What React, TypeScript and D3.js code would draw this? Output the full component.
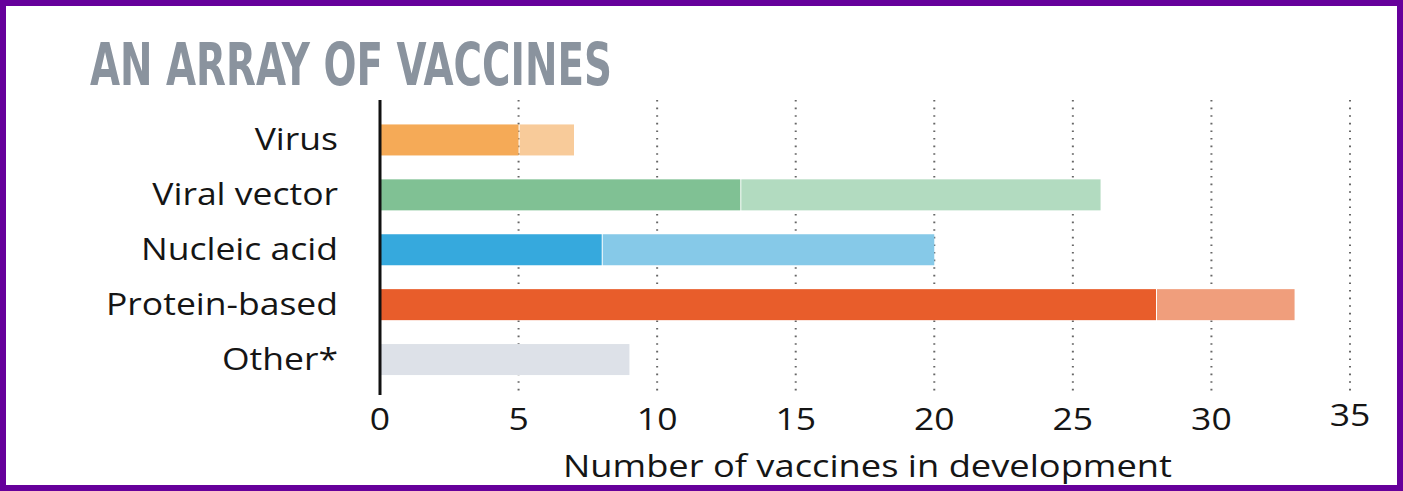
import { useEffect, useRef } from 'react'
import * as d3 from 'd3'

const categories = ['Virus', 'Viral vector', 'Nucleic acid', 'Protein-based', 'Other*']
// first segment (dark) and second segment (light) per category
const firstValues = [5, 13, 8, 28, 9]
const secondValues = [2, 13, 12, 5, 0]
const darkColors = ['#f5aa57', '#80c194', '#36a9dd', '#e85d2b', '#dde1e8']
const lightColors = ['#f8cb9a', '#b2dbc0', '#86c9e8', '#f09e7c', '#dde1e8']
const ticks = [0, 5, 10, 15, 20, 25, 30, 35]

const App = () => {
	const svgRef = useRef(null)

	useEffect(() => {
		document.body.style.margin = '0'
		const width = 1403
		const height = 491
		const font = '"Open Sans", sans-serif'

		const svg = d3.select(svgRef.current)
		svg.selectAll('*').remove()
		svg.attr('width', width).attr('height', height)

		svg
			.append('rect')
			.attr('x', 0)
			.attr('y', 0)
			.attr('width', width)
			.attr('height', height)
			.attr('fill', '#fff')

		// purple frame
		svg
			.append('rect')
			.attr('x', 3)
			.attr('y', 3)
			.attr('width', width - 6)
			.attr('height', height - 6)
			.attr('fill', 'none')
			.attr('stroke', '#66009b')
			.attr('stroke-width', 6)

		// title
		svg
			.append('text')
			.attr('x', 90)
			.attr('y', 85)
			.attr('textLength', 522)
			.attr('lengthAdjust', 'spacingAndGlyphs')
			.style('font-family', '"DejaVu Sans Condensed", "DejaVu Sans", sans-serif')
			.style('font-weight', 'bold')
			.style('font-size', '59px')
			.style('fill', '#8a939e')
			.text('AN ARRAY OF VACCINES')

		const x = d3.scaleLinear().domain([0, 35]).range([380, 1350])
		const y = d3
			.scaleBand()
			.domain(categories)
			.range([112.5, 387])
			.paddingInner(0.435)
			.paddingOuter(0.2175)

		const gridTop = 100
		const gridBottom = 395

		// dotted grid lines
		svg
			.append('g')
			.selectAll('line')
			.data(ticks.slice(1))
			.join('line')
			.attr('x1', (d) => x(d))
			.attr('x2', (d) => x(d))
			.attr('y1', gridTop)
			.attr('y2', gridBottom)
			.attr('stroke', '#666')
			.attr('stroke-width', 2)
			.attr('stroke-dasharray', '1.6,6')

		// bars
		const rows = categories.map((c, i) => ({
			cat: c,
			a: firstValues[i],
			b: secondValues[i],
			dark: darkColors[i],
			light: lightColors[i],
		}))

		const bars = svg.append('g')
		bars
			.selectAll('rect.first')
			.data(rows)
			.join('rect')
			.attr('class', 'first')
			.attr('x', x(0))
			.attr('y', (d) => y(d.cat))
			.attr('width', (d) => x(d.a) - x(0))
			.attr('height', y.bandwidth())
			.attr('fill', (d) => d.dark)

		bars
			.selectAll('rect.second')
			.data(rows.filter((d) => d.b > 0))
			.join('rect')
			.attr('class', 'second')
			.attr('x', (d) => x(d.a) + 1)
			.attr('y', (d) => y(d.cat))
			.attr('width', (d) => x(d.a + d.b) - x(d.a) - 1)
			.attr('height', y.bandwidth())
			.attr('fill', (d) => d.light)

		// category labels (the original face is wider, so stretch a bit)
		const labels = svg
			.append('g')
			.selectAll('text')
			.data(categories)
			.join('text')
			.attr('x', 338)
			.attr('y', (d) => y(d) + y.bandwidth() / 2 + 10)
			.attr('text-anchor', 'end')
			.style('font-family', font)
			.style('font-size', '30.5px')
			.style('fill', '#151515')
			.text((d) => d)

		const widths = labels.nodes().map((n) => n.getComputedTextLength())
		const k = 232 / widths[3]
		labels
			.attr('textLength', (d, i) => widths[i] * k)
			.attr('lengthAdjust', 'spacingAndGlyphs')

		// axis line
		svg
			.append('line')
			.attr('x1', x(0))
			.attr('x2', x(0))
			.attr('y1', gridTop)
			.attr('y2', gridBottom)
			.attr('stroke', '#111')
			.attr('stroke-width', 3)

		// tick labels
		const tickLabels = svg
			.append('g')
			.selectAll('text')
			.data(ticks)
			.join('text')
			.attr('x', (d) => x(d))
			.attr('y', (d) => (d === 35 ? 426 : 430))
			.attr('text-anchor', 'middle')
			.style('font-family', font)
			.style('font-size', '30.5px')
			.style('fill', '#151515')
			.text((d) => d)

		const tickWidths = tickLabels.nodes().map((n) => n.getComputedTextLength())
		tickLabels
			.attr('textLength', (d, i) => tickWidths[i] * k)
			.attr('lengthAdjust', 'spacingAndGlyphs')

		// axis title
		svg
			.append('text')
			.attr('x', 563)
			.attr('y', 477)
			.attr('textLength', 609)
			.attr('lengthAdjust', 'spacingAndGlyphs')
			.style('font-family', font)
			.style('font-size', '30.5px')
			.style('fill', '#151515')
			.text('Number of vaccines in development')
	}, [])

	return <svg ref={svgRef}></svg>
}

export default App
